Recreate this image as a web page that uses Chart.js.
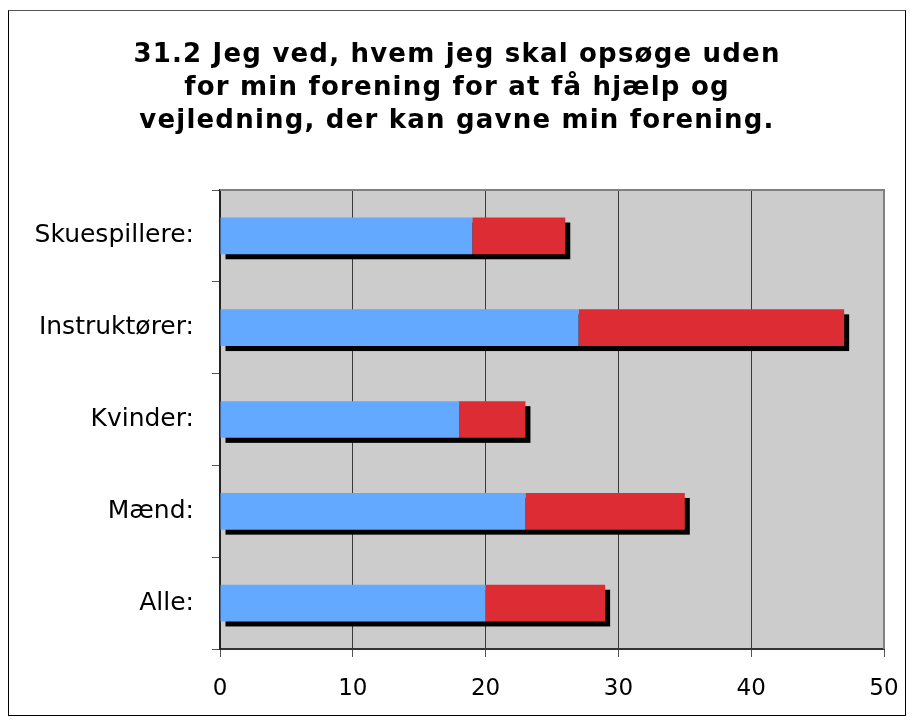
<!DOCTYPE html>
<html>
<head>
<meta charset="utf-8">
<script src="https://cdn.jsdelivr.net/npm/chart.js@4.4.1/dist/chart.umd.min.js"></script>
<style>
    html, body { margin: 0; padding: 0; background: #fff; }
    #frame { position: absolute; left: 0; top: 0; width: 914px; height: 724px; }
    #box { position: absolute; left: 8px; top: 10px; width: 896px; height: 704px; border: 1px solid #000; border-top-color: #555; }
</style>
</head>
<body>
<div id="frame">
    <div id="box"></div>
    <canvas id="chart" width="914" height="724"></canvas>
</div>
<script>
// values
const categories = ['Skuespillere:', 'Instruktører:', 'Kvinder:', 'Mænd:', 'Alle:'];
const blueValues = [19, 27, 18, 23, 20];
const redValues = [7, 20, 5, 12, 9];
const titleLines = [
    '31.2 Jeg ved, hvem jeg skal opsøge uden',
    'for min forening for at få hjælp og',
    'vejledning, der kan gavne min forening.'
];
const xMin = 0, xMax = 50, xStep = 10;

const FONT = "'DejaVu Sans', Verdana, sans-serif";

// Verdana-ish wide bold title, drawn with a bit of letter spacing
const wideTitle = {
    id: 'wideTitle',
    afterDraw(chart) {
        const ctx = chart.ctx;
        ctx.save();
        ctx.font = 'bold 26px ' + FONT;
        ctx.fillStyle = '#000';
        ctx.textAlign = 'center';
        ctx.textBaseline = 'alphabetic';
        if ('letterSpacing' in ctx) ctx.letterSpacing = '1.2px';
        titleLines.forEach((line, i) => {
            ctx.fillText(line, chart.width / 2, 62 + i * 33);
        });
        ctx.restore();
    }
};

// gray plot area + thin gray frame on top/right
const plotBg = {
    id: 'plotBg',
    beforeDraw(chart) {
        const { ctx, chartArea: a } = chart;
        ctx.save();
        ctx.fillStyle = '#cccccc';
        ctx.fillRect(a.left, a.top, a.right - a.left, a.bottom - a.top);
        ctx.restore();
    },
    afterDraw(chart) {
        const { ctx, chartArea: a } = chart;
        ctx.save();
        ctx.strokeStyle = '#808080';
        ctx.lineWidth = 2;
        ctx.beginPath();
        ctx.moveTo(a.left, a.top);
        ctx.lineTo(a.right, a.top);
        ctx.lineTo(a.right, a.bottom);
        ctx.stroke();
        ctx.restore();
    }
};

// black drop shadow behind each stacked bar
const barShadow = {
    id: 'barShadow',
    beforeDatasetsDraw(chart) {
        const first = chart.getDatasetMeta(0).data;
        const last = chart.getDatasetMeta(chart.data.datasets.length - 1).data;
        const ctx = chart.ctx;
        ctx.save();
        ctx.fillStyle = '#000';
        first.forEach((el, i) => {
            const end = last[i];
            const left = Math.min(el.base, el.x);
            const right = end.x;
            ctx.fillRect(left + 5, el.y - el.height / 2 + 5, right - left, el.height);
        });
        ctx.restore();
    }
};

new Chart(document.getElementById('chart'), {
    type: 'bar',
    data: {
        labels: categories,
        datasets: [
            { data: blueValues, backgroundColor: '#62a9ff', borderWidth: 0 },
            { data: redValues, backgroundColor: '#dd2c33', borderWidth: 0 }
        ]
    },
    options: {
        indexAxis: 'y',
        responsive: false,
        animation: false,
        categoryPercentage: 1,
        barPercentage: 0.4,
        layout: { padding: { left: 0, right: 30, top: 190, bottom: 0 } },
        plugins: {
            legend: { display: false },
            tooltip: { enabled: false },
            title: { display: false }
        },
        scales: {
            x: {
                stacked: true,
                min: xMin,
                max: xMax,
                ticks: { stepSize: xStep, color: '#000', padding: 18, font: { family: FONT, size: 23 } },
                grid: { color: '#3a3a3a', lineWidth: 1, tickLength: 8, tickColor: '#555' },
                border: { color: '#333', width: 2 },
                afterFit(scale) { scale.height = 75; scale.paddingRight = 0; scale.paddingLeft = 0; }
            },
            y: {
                stacked: true,
                ticks: { color: '#000', padding: 18, font: { family: FONT, size: 25 } },
                grid: { offset: true, drawOnChartArea: false, tickLength: 8, tickColor: '#555' },
                border: { color: '#222', width: 2 },
                afterFit(scale) { scale.width = 220; }
            }
        }
    },
    plugins: [plotBg, barShadow, wideTitle]
});
</script>
</body>
</html>
